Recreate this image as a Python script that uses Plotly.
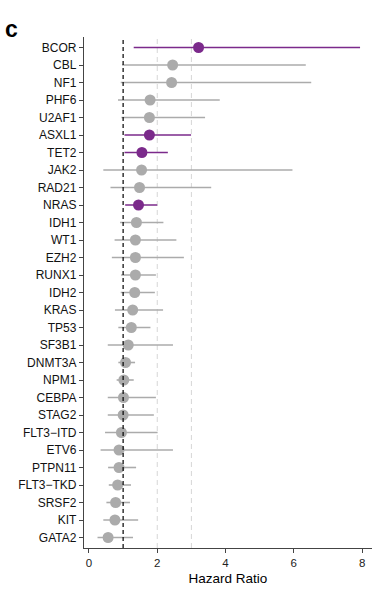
import plotly.graph_objects as go

# Genes, top to bottom
genes = ["BCOR", "CBL", "NF1", "PHF6", "U2AF1", "ASXL1", "TET2", "JAK2", "RAD21",
         "NRAS", "IDH1", "WT1", "EZH2", "RUNX1", "IDH2", "KRAS", "TP53", "SF3B1",
         "DNMT3A", "NPM1", "CEBPA", "STAG2", "FLT3\u2212ITD", "ETV6", "PTPN11",
         "FLT3\u2212TKD", "SRSF2", "KIT", "GATA2"]
hr = [3.21, 2.45, 2.42, 1.79, 1.77, 1.77, 1.55, 1.54, 1.48,
      1.45, 1.39, 1.36, 1.36, 1.36, 1.34, 1.28, 1.24, 1.15,
      1.07, 1.02, 1.01, 1.00, 0.95, 0.88, 0.88,
      0.84, 0.78, 0.76, 0.56]
ci_low = [1.31, 0.97, 0.93, 0.85, 0.95, 1.04, 1.04, 0.42, 0.63,
          1.06, 0.91, 0.75, 0.67, 0.94, 0.93, 0.76, 0.86, 0.55,
          0.86, 0.81, 0.55, 0.55, 0.47, 0.34, 0.56,
          0.58, 0.51, 0.42, 0.25]
ci_high = [7.94, 6.35, 6.51, 3.83, 3.40, 2.99, 2.31, 5.96, 3.58,
           2.00, 2.18, 2.56, 2.78, 1.96, 1.93, 2.17, 1.80, 2.46,
           1.35, 1.31, 1.96, 1.90, 2.01, 2.46, 1.38,
           1.23, 1.20, 1.44, 1.29]
significant = ["BCOR", "ASXL1", "TET2", "NRAS"]

PURPLE = "#7B2A8B"
GREY = "#ABABAB"

fig = go.Figure()

# Light grey guides at HR = 2 and 3, behind the data
for xv in (2, 3):
    fig.add_shape(type="line", xref="x", yref="paper", x0=xv, x1=xv, y0=0, y1=1,
                  line=dict(color="#D6D6D6", width=1, dash="5px,4px"), layer="below")
# Null line at HR = 1, on top of the data
fig.add_shape(type="line", xref="x", yref="paper", x0=1, x1=1, y0=0, y1=1,
              line=dict(color="#000000", width=1.2, dash="4px,3px"), layer="above")

for is_sig, color in [(False, GREY), (True, PURPLE)]:
    idx = [i for i, g in enumerate(genes) if (g in significant) == is_sig]
    fig.add_trace(go.Scatter(
        x=[hr[i] for i in idx],
        y=[genes[i] for i in idx],
        mode="markers",
        marker=dict(color=color, size=11, line=dict(width=0)),
        error_x=dict(
            type="data", symmetric=False,
            array=[ci_high[i] - hr[i] for i in idx],
            arrayminus=[hr[i] - ci_low[i] for i in idx],
            color=color, thickness=1.6, width=0,
        ),
        showlegend=False,
        hoverinfo="skip",
    ))

fig.add_annotation(text="<b>c</b>", xref="paper", yref="paper", x=0, y=1,
                   xanchor="left", yanchor="bottom", showarrow=False,
                   font=dict(family="Liberation Sans, Arial", size=23, color="#000"),
                   xshift=-81, yshift=-7)

fig.update_layout(
    width=375, height=593,
    margin=dict(l=84, r=3, t=37, b=45),
    paper_bgcolor="white", plot_bgcolor="white",
    font=dict(family="Liberation Sans, Arial", color="#000"),
    xaxis=dict(
        range=[-0.146, 8.29], tickvals=[0, 2, 4, 6, 8],
        showgrid=False, zeroline=False,
        showline=True, linecolor="#444", linewidth=1.4,
        ticks="outside", ticklen=4, tickcolor="#444", tickwidth=1.2,
        tickfont=dict(size=11.5, color="#222"),
        title=dict(text="Hazard Ratio", font=dict(size=13.5, color="#000"), standoff=5),
    ),
    yaxis=dict(
        type="category", categoryorder="array", categoryarray=genes[::-1],
        range=[-0.6, 28.6],
        showgrid=False, zeroline=False,
        showline=True, linecolor="#444", linewidth=1.4,
        ticks="outside", ticklen=4, tickcolor="#444", tickwidth=1.2,
        tickfont=dict(size=12, color="#111"),
    ),
)

fig.write_html("out.html")
